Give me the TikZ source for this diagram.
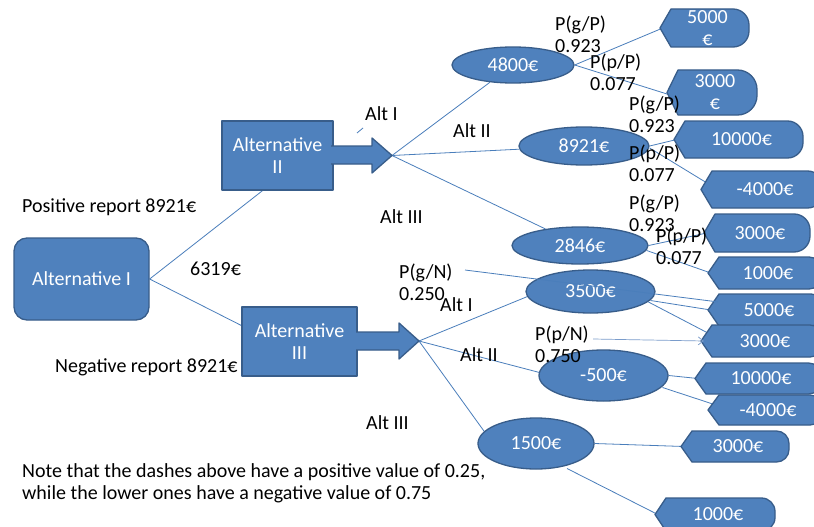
\documentclass[tikz,border=0pt]{standalone}
\usepackage{fontspec}
\setmainfont{Carlito}
\usetikzlibrary{calc,shapes.geometric,arrows.meta}
\definecolor{boxfill}{HTML}{4F81BD}
\definecolor{boxline}{HTML}{385D8A}
\definecolor{conn}{HTML}{4A7EBB}
\definecolor{connlight}{HTML}{7A9CCB}
\pgfdeclarelayer{bg}
\pgfsetlayers{bg,main}
\newcommand{\dispshape}[6]{%
 \pgfmathsetmacro{\dsym}{(#3+#5)/2}%
 \pgfmathsetmacro{\dsr}{(#5-#3)/2-3}%
 \pgfmathsetmacro{\dsw}{#4-#2}%
 \pgfmathsetmacro{\dsh}{#5-#3}%
 \pgfmathsetmacro{\dsx}{(#2+#4)/2}%
 \path[shapest] (#2,\dsym) -- (#2+11,#3) -- (#4-\dsr,#3) arc[start angle=-90,end angle=0,radius=\dsr] -- (#4,#5-\dsr) arc[start angle=0,end angle=90,radius=\dsr] -- (#2+11,#5) -- cycle;
 \node[shapetext, minimum width=\dsw, minimum height=\dsh] (#1) at (\dsx+3,\dsym) {#6};
}
\begin{document}
\begin{tikzpicture}[x=1pt,y=-1pt,
  every node/.style={font=\fontsize{20}{22}\selectfont},
  shapest/.style={fill=boxfill,draw=boxline,line width=1.3pt,line join=round},
  shapetext/.style={inner sep=0,text=white,align=center},
  boxst/.style={shapest,text=white,align=center,inner sep=0},
  ell/.style={shapest,ellipse,inner sep=0,text=white},
  lbl/.style={inner sep=0,anchor=west,text=black},
  lbl2/.style={inner sep=0,anchor=north west,text=black,align=left},
  cn/.style={draw=conn,line width=0.8pt}]
\useasboundingbox (0,0) rectangle (814,527);
\clip (0,0) rectangle (814,527);
\begin{pgfonlayer}{bg}
\fill[white] (0,0) rectangle (814,527);
\end{pgfonlayer}

% main boxes
\node[boxst,rounded corners=13pt,minimum width=135,minimum height=82] (alt1) at (81.5,279) {Alternative I};
\node[boxst,minimum width=111,minimum height=69] (alt2) at (277.5,155.5) {Alternative\\II};
\path[shapest] (331,146) -- (372,146) -- (372,138) -- (392,155.5) -- (372,173) -- (372,164) -- (331,164);
\coordinate (a2tip) at (392,155.5);
\node[boxst,minimum width=115,minimum height=69] (alt3) at (299.5,341.5) {Alternative\\III};
\path[shapest] (356,332) -- (399,332) -- (399,323) -- (419,341) -- (399,359) -- (399,350) -- (356,350);
\coordinate (a3tip) at (419,341);

% chance ellipses
\node[ell,minimum width=122,minimum height=36] (e4800) at (513,65) {4800€};
\node[ell,minimum width=130,minimum height=38] (e8921) at (584,146) {8921€};
\node[ell,minimum width=136,minimum height=37] (e2846) at (580,245.5) {2846€};
\node[ell,minimum width=129,minimum height=43] (e3500) at (590.5,291.5) {3500€};
\node[ell,minimum width=129,minimum height=51] (em500) at (603.5,375.5) {-500€};
\node[ell,minimum width=116,minimum height=51] (e1500) at (536,443.5) {1500€};

% end values
\dispshape{d5000a}{660}{9}{749}{47}{5000\\€}
\dispshape{d3000a}{667}{70}{757}{115}{3000\\€}
\dispshape{d10000a}{674}{121}{803}{158}{10000€}
\dispshape{dm4000a}{701}{171}{823}{208}{-4000€}
\dispshape{d3000b}{704}{214}{810}{252}{3000€}
\dispshape{d1000a}{708}{257}{822}{289}{1000€}
\dispshape{d5000b}{708}{294}{824}{326}{5000€}
\dispshape{d3000c}{701}{325}{823}{357}{3000€}
\dispshape{d10000b}{695}{363}{821}{394}{10000€}
\dispshape{dm4000b}{708}{395}{822}{425}{-4000€}
\dispshape{d3000d}{681}{431}{789}{462}{3000€}
\dispshape{d1000b}{655}{498}{775}{531}{1000€}

% labels
\node[lbl] (posrep) at (22,207) {Positive report 8921€};
\node[lbl] (v6319) at (190,269) {6319€};
\node[lbl] (negrep) at (55,367) {Negative report 8921€};
\node[lbl] (altIa) at (365,114) {Alt I};
\node[lbl] (altIIa) at (453,131) {Alt II};
\node[lbl] (altIIIa) at (380,217) {Alt III};
\node[lbl] (altIb) at (440,305) {Alt I};
\node[lbl] (altIIb) at (460,355) {Alt II};
\node[lbl] (altIIIb) at (366,423) {Alt III};
\node[lbl2] (pgP1) at (555,16) {P(g/P)\\0.923};
\node[lbl2] (ppP1) at (590,54) {P(p/P)\\0.077};
\node[lbl2] (pgP2) at (629,96) {P(g/P)\\0.923};
\node[lbl2] (ppP2) at (629,145) {P(p/P)\\0.077};
\node[lbl2] (pgP3) at (629,195) {P(g/P)\\0.923};
\node[lbl2] (ppP3) at (656,228) {P(p/P)\\0.077};
\node[lbl2] (pgN) at (399,264) {P(g/N)\\0.250};
\node[lbl2] (ppN) at (535,326) {P(p/N)\\0.750};
\node[lbl2] (note) at (22,463) {Note that the dashes above have a positive value of 0.25,\\while the lower ones have a negative value of 0.75};

\coordinate (gNstart) at (465,270);
\coordinate (pNstart) at (593,339);
\coordinate (tickA) at (357,133);
\coordinate (tickB) at (363,128);

\begin{pgfonlayer}{bg}
\draw[cn] (alt1.east) -- ($(alt2.south)+(-15,0)$);
\draw[cn] (alt1.east) -- ($(alt3.west)+(0,-16)$);
\draw[cn] (tickA) -- (tickB);
\draw[cn] (a2tip) -- (e4800);
\draw[cn] (a2tip) -- (e8921);
\draw[cn] (a2tip) -- (e2846);
\draw[cn] (a3tip) -- ($(e3500.center)+(-63,5)$);
\draw[cn] (a3tip) -- ($(em500.center)+(-64,-3)$);
\draw[cn] (a3tip) -- ($(e1500.center)+(-51,-11)$);
\draw[cn] (e4800.east) -- (d5000a.west);
\draw[cn] (e4800.east) -- ($(d3000a.west)+(2,3)$);
\draw[cn] (e8921.east) -- (d10000a.west);
\draw[cn] ($(e8921.east)+(0,2)$) -- ($(dm4000a.west)+(4,-6)$);
\draw[cn] (e2846.east) -- (d3000b.west);
\draw[cn] ($(e2846.east)+(-2,5)$) -- (d1000a.west);
\draw[cn] ($(e3500.center)+(60,9)$) -- (d5000b.west);
\draw[cn] ($(e3500.center)+(57,10)$) -- ($(d3000c.west)+(6,-7)$);
\draw[cn] (em500.east) -- (d10000b.west);
\draw[cn] ($(em500.center)+(59,12)$) -- ($(dm4000b.west)+(5,-5)$);
\draw[cn] (e1500.east) -- (d3000d.west);
\draw[cn] ($(e1500.center)+(31,25)$) -- (d1000b.west);
\end{pgfonlayer}
\draw[cn] (gNstart) -- ($(d5000b.west)!0.5!(d5000b.north west)+(7,0)$);
\draw[draw=connlight,line width=0.7pt,-{Straight Barb[length=5pt,width=8pt]}] (pNstart) -- (d3000c.west);
\end{tikzpicture}
\end{document}
